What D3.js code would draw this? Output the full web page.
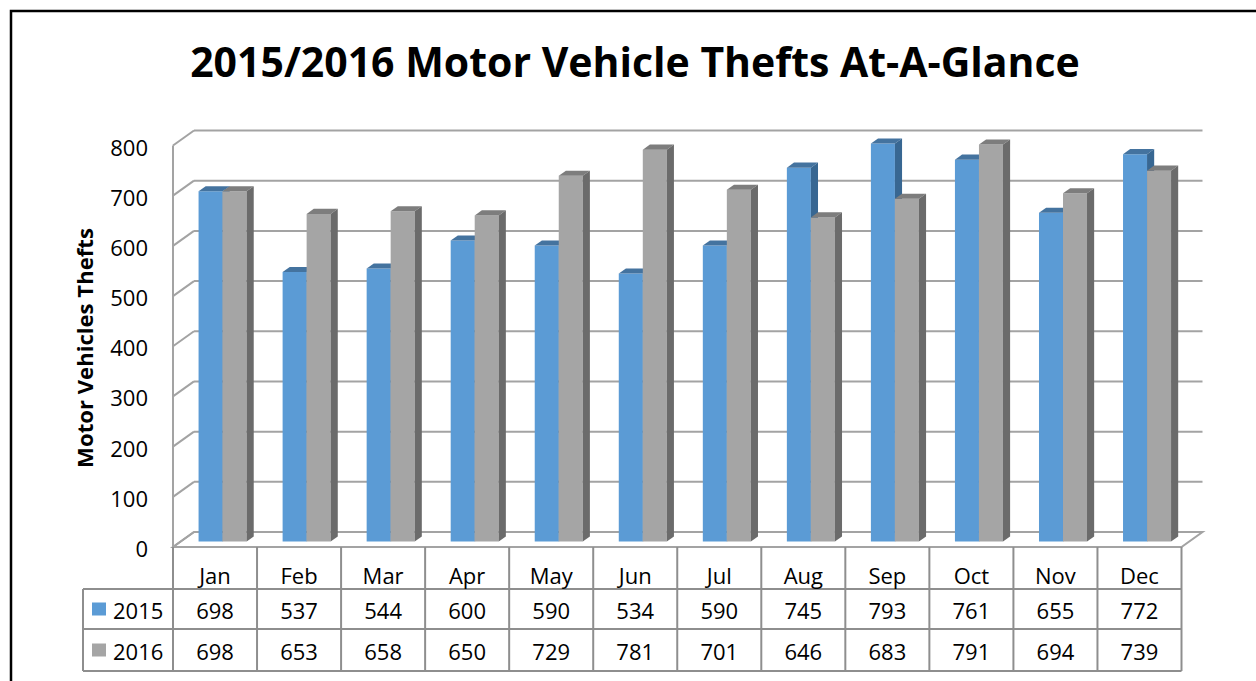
<!DOCTYPE html>
<html>
<head>
<meta charset="utf-8">
<script src="https://cdn.jsdelivr.net/npm/d3@7"></script>
<style>
  body { margin: 0; background: #fff; }
  svg { display: block; font-family: "Open Sans", sans-serif; }
</style>
</head>
<body>
<div id="vis"></div>
<script>
const WIDTH = 1256;
const HEIGHT = 681;

// data
const months = ["Jan", "Feb", "Mar", "Apr", "May", "Jun", "Jul", "Aug", "Sep", "Oct", "Nov", "Dec"];
const series = ["2015", "2016"];
const values2015 = [698, 537, 544, 600, 590, 534, 590, 745, 793, 761, 655, 772];
const values2016 = [698, 653, 658, 650, 729, 781, 701, 646, 683, 791, 694, 739];
const yTicks = [0, 100, 200, 300, 400, 500, 600, 700, 800];

const COLORS = {
  "2015": {front: "#5b9bd5", top: "#44739f", side: "#386792"},
  "2016": {front: "#a5a5a5", top: "#7d7d7d", side: "#6b6b6b"}
};
const GRID = "#a3a3a3";
const TABLE_LINE = "#8e8e8e";

// front plane of plot
const PLOT = {left: 173, right: 1181.5, top: 145.5, bottom: 547};
const DX = 21, DY = 15;      // depth of the 3d box
const Z0 = 0.36, Z1 = 0.70;  // bar depth range

const svg = d3.select("#vis")
  .append("svg")
    .attr("width", WIDTH)
    .attr("height", HEIGHT);

// outer frame
svg.append("rect")
  .attr("x", 11).attr("y", 11)
  .attr("width", 1400).attr("height", 800)
  .attr("fill", "none")
  .attr("stroke", "#000")
  .attr("stroke-width", 2.5);

// fit text to width
function fitText(sel, target) {
  const w = sel.node().getComputedTextLength();
  const fs = parseFloat(sel.attr("font-size"));
  sel.attr("font-size", fs * target / w);
}

const title = svg.append("text")
  .attr("x", 635).attr("y", 77)
  .attr("text-anchor", "middle")
  .attr("font-weight", "bold")
  .attr("font-size", 40)
  .text("2015/2016 Motor Vehicle Thefts At-A-Glance");
fitText(title, 890);

// scales
const Y_SCALE = d3.scaleLinear().domain([0, 800]).range([PLOT.bottom, PLOT.top]);
const X_SCALE = d3.scaleBand().domain(months).range([PLOT.left, PLOT.right]);
const X_INNER = d3.scaleBand().domain(series)
  .range([0, X_SCALE.bandwidth()])
  .paddingInner(0).paddingOuter(0.75);

// projection: front x, value, depth -> screen
const px = (x, z) => x + z * DX;
const py = (v, z) => Y_SCALE(v) - z * DY;

const grid = svg.append("g");

// floor
grid.append("polygon")
  .attr("points", [
    [px(PLOT.left, 0), py(0, 0)],
    [px(PLOT.right, 0), py(0, 0)],
    [px(PLOT.right, 1), py(0, 1)],
    [px(PLOT.left, 1), py(0, 1)]
  ].map(p => p.join(",")).join(" "))
  .attr("fill", "#fff")
  .attr("stroke", GRID)
  .attr("stroke-width", 2);

// back wall gridlines
grid.selectAll(".gl")
  .data(yTicks.filter(d => d > 0))
  .enter()
  .append("line")
    .attr("x1", px(PLOT.left, 1))
    .attr("x2", px(PLOT.right, 1))
    .attr("y1", d => py(d, 1))
    .attr("y2", d => py(d, 1))
    .attr("stroke", GRID)
    .attr("stroke-width", 2);

// side wall diagonals
grid.selectAll(".dg")
  .data(yTicks)
  .enter()
  .append("line")
    .attr("x1", px(PLOT.left, 0))
    .attr("x2", px(PLOT.left, 1))
    .attr("y1", d => py(d, 0))
    .attr("y2", d => py(d, 1))
    .attr("stroke", GRID)
    .attr("stroke-width", 2);

grid.append("line")
  .attr("x1", PLOT.left).attr("x2", PLOT.left)
  .attr("y1", Y_SCALE(800)).attr("y2", Y_SCALE(0))
  .attr("stroke", GRID)
  .attr("stroke-width", 2);

// y tick labels
svg.selectAll(".ytick")
  .data(yTicks)
  .enter()
  .append("text")
    .attr("x", 148)
    .attr("y", d => Y_SCALE(d) + 1)
    .attr("text-anchor", "end")
    .attr("dominant-baseline", "central")
    .attr("font-size", 22)
    .text(d => d);

const yTitle = svg.append("text")
  .attr("transform", "translate(93,348) rotate(-90)")
  .attr("text-anchor", "middle")
  .attr("font-weight", "bold")
  .attr("font-size", 20)
  .text("Motor Vehicles Thefts");
fitText(yTitle, 240);

// bars
const barData = [];
months.forEach((m, i) => {
  barData.push({month: m, key: "2015", value: values2015[i]});
  barData.push({month: m, key: "2016", value: values2016[i]});
});

const pts = a => a.map(p => p.join(",")).join(" ");

const bars = svg.append("g").selectAll("g")
  .data(barData)
  .enter()
  .append("g");

bars.each(function(d) {
  const g = d3.select(this);
  const x0 = X_SCALE(d.month) + X_INNER(d.key);
  const x1 = x0 + X_INNER.bandwidth();
  const c = COLORS[d.key];
  // front
  g.append("polygon")
    .attr("points", pts([
      [px(x0, Z0), py(0, Z0)], [px(x1, Z0), py(0, Z0)],
      [px(x1, Z0), py(d.value, Z0)], [px(x0, Z0), py(d.value, Z0)]
    ]))
    .attr("fill", c.front);
  // top
  g.append("polygon")
    .attr("points", pts([
      [px(x0, Z0), py(d.value, Z0)], [px(x1, Z0), py(d.value, Z0)],
      [px(x1, Z1), py(d.value, Z1)], [px(x0, Z1), py(d.value, Z1)]
    ]))
    .attr("fill", c.top);
  // side
  g.append("polygon")
    .attr("points", pts([
      [px(x1, Z0), py(0, Z0)], [px(x1, Z1), py(0, Z1)],
      [px(x1, Z1), py(d.value, Z1)], [px(x1, Z0), py(d.value, Z0)]
    ]))
    .attr("fill", c.side);
});

// data table
const ROWS = {header: [PLOT.bottom, 589], r2015: [589, 629], r2016: [629, 671]};
const TABLE_LEFT = 83;
const table = svg.append("g");

// horizontal lines
[589, 629, 671].forEach(y => {
  table.append("line")
    .attr("x1", TABLE_LEFT).attr("x2", PLOT.right)
    .attr("y1", y).attr("y2", y)
    .attr("stroke", TABLE_LINE).attr("stroke-width", 2);
});
table.append("line")
  .attr("x1", PLOT.left).attr("x2", PLOT.right)
  .attr("y1", PLOT.bottom).attr("y2", PLOT.bottom)
  .attr("stroke", GRID).attr("stroke-width", 2);

// vertical lines
const vx = months.map(m => X_SCALE(m)).concat([PLOT.right]);
table.selectAll(".vl")
  .data(vx)
  .enter()
  .append("line")
    .attr("x1", d => d).attr("x2", d => d)
    .attr("y1", PLOT.bottom).attr("y2", 671)
    .attr("stroke", TABLE_LINE).attr("stroke-width", 2);
table.append("line")
  .attr("x1", TABLE_LEFT).attr("x2", TABLE_LEFT)
  .attr("y1", 589).attr("y2", 671)
  .attr("stroke", TABLE_LINE).attr("stroke-width", 2);

// month labels
table.selectAll(".mlab")
  .data(months)
  .enter()
  .append("text")
    .attr("x", d => X_SCALE(d) + X_SCALE.bandwidth() / 2)
    .attr("y", 575)
    .attr("text-anchor", "middle")
    .attr("dominant-baseline", "central")
    .attr("font-size", 22)
    .text(d => d);

const rowInfo = [
  {key: "2015", vals: values2015, y: (ROWS.r2015[0] + ROWS.r2015[1]) / 2},
  {key: "2016", vals: values2016, y: (ROWS.r2016[0] + ROWS.r2016[1]) / 2}
];

rowInfo.forEach(r => {
  table.append("rect")
    .attr("x", 92).attr("y", r.y - 6.5)
    .attr("width", 14).attr("height", 13)
    .attr("fill", COLORS[r.key].front);
  table.append("text")
    .attr("x", 113).attr("y", r.y + 1)
    .attr("dominant-baseline", "central")
    .attr("font-size", 22)
    .text(r.key);
  table.selectAll(".v" + r.key)
    .data(r.vals)
    .enter()
    .append("text")
      .attr("x", (d, i) => X_SCALE(months[i]) + X_SCALE.bandwidth() / 2)
      .attr("y", r.y + 1)
      .attr("text-anchor", "middle")
      .attr("dominant-baseline", "central")
      .attr("font-size", 22)
      .text(d => d);
});
</script>
</body>
</html>
